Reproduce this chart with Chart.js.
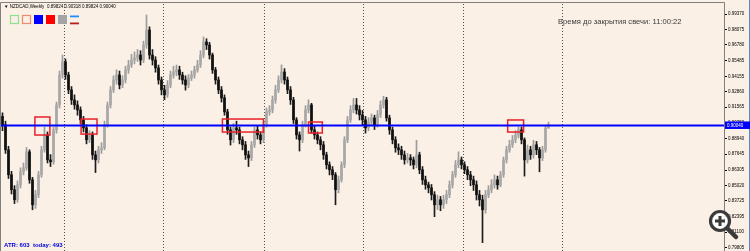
<!DOCTYPE html>
<html>
<head>
<meta charset="utf-8">
<script src="https://cdn.jsdelivr.net/npm/chart.js@4"></script>
<style>
  html, body { margin: 0; padding: 0; background: #FAF0E6; overflow: hidden; }
</style>
</head>
<body>
<canvas id="chart" width="750" height="251"></canvas>
<script>
// NZDCAD weekly candles
const opens = [
  0.9080, 0.9009, 0.8800, 0.8591, 0.8466, 0.8382, 0.8507, 0.8616, 0.8650, 0.8783,
  0.8549, 0.8340, 0.8424, 0.8591, 0.8800, 0.8925, 0.8716, 0.8700, 0.8967, 0.9176,
  0.9427, 0.9536, 0.9427, 0.9302, 0.9218, 0.9176, 0.9134, 0.9051, 0.8984, 0.8884,
  0.8925, 0.8758, 0.8716, 0.8800, 0.8817, 0.9009, 0.9176, 0.9302, 0.9385, 0.9427,
  0.9343, 0.9385, 0.9469, 0.9511, 0.9552, 0.9569, 0.9594, 0.9552, 0.9678, 0.9803,
  0.9594, 0.9552, 0.9486, 0.9385, 0.9302, 0.9260, 0.9343, 0.9427, 0.9452, 0.9469,
  0.9427, 0.9385, 0.9343, 0.9402, 0.9427, 0.9469, 0.9511, 0.9594, 0.9703, 0.9678,
  0.9594, 0.9469, 0.9385, 0.9302, 0.9235, 0.9118, 0.8967, 0.8884, 0.8984, 0.8967,
  0.8884, 0.8842, 0.8758, 0.8733, 0.8842, 0.8967, 0.8925, 0.8884, 0.9009, 0.9118,
  0.9134, 0.9218, 0.9302, 0.9385, 0.9452, 0.9385, 0.9302, 0.9218, 0.9051, 0.8925,
  0.8884, 0.9009, 0.9134, 0.9176, 0.8967, 0.8925, 0.8884, 0.8842, 0.8758, 0.8675,
  0.8633, 0.8591, 0.8466, 0.8549, 0.8675, 0.8884, 0.9051, 0.9134, 0.9176, 0.9134,
  0.9093, 0.9051, 0.8984, 0.9034, 0.9067, 0.9009, 0.9093, 0.9176, 0.9218, 0.9067,
  0.8967, 0.8884, 0.8817, 0.8800, 0.8758, 0.8716, 0.8733, 0.8716, 0.8675, 0.8758,
  0.8633, 0.8549, 0.8507, 0.8482, 0.8424, 0.8340, 0.8382, 0.8340, 0.8382, 0.8424,
  0.8507, 0.8591, 0.8675, 0.8716, 0.8675, 0.8633, 0.8591, 0.8549, 0.8507, 0.8424,
  0.8382, 0.8298, 0.8424, 0.8466, 0.8507, 0.8549, 0.8507, 0.8591, 0.8716, 0.8800,
  0.8842, 0.8884, 0.8925, 0.8967, 0.8884, 0.8716, 0.8800, 0.8758, 0.8842, 0.8800,
  0.8733, 0.8800, 0.8982
];
const highs = [
  0.9110, 0.9040, 0.8830, 0.8620, 0.8500, 0.8540, 0.8650, 0.8690, 0.8820, 0.8800,
  0.8570, 0.8460, 0.8620, 0.8830, 0.8990, 0.8950, 0.8760, 0.8990, 0.9200, 0.9460,
  0.9594, 0.9560, 0.9450, 0.9330, 0.9260, 0.9210, 0.9160, 0.9080, 0.9010, 0.8960,
  0.8950, 0.8790, 0.8830, 0.8860, 0.9040, 0.9200, 0.9330, 0.9420, 0.9470, 0.9460,
  0.9420, 0.9500, 0.9550, 0.9600, 0.9620, 0.9640, 0.9630, 0.9710, 0.9929, 0.9830,
  0.9640, 0.9580, 0.9510, 0.9410, 0.9340, 0.9380, 0.9460, 0.9500, 0.9510, 0.9500,
  0.9450, 0.9420, 0.9430, 0.9460, 0.9500, 0.9550, 0.9630, 0.9745, 0.9730, 0.9700,
  0.9610, 0.9490, 0.9410, 0.9330, 0.9260, 0.9140, 0.8990, 0.9020, 0.9040, 0.8990,
  0.8910, 0.8870, 0.8790, 0.8870, 0.8990, 0.9000, 0.8950, 0.9040, 0.9150, 0.9170,
  0.9250, 0.9340, 0.9420, 0.9511, 0.9480, 0.9410, 0.9330, 0.9240, 0.9070, 0.8950,
  0.9040, 0.9170, 0.9218, 0.9190, 0.9000, 0.8950, 0.8910, 0.8870, 0.8780, 0.8700,
  0.8660, 0.8610, 0.8580, 0.8700, 0.8910, 0.9080, 0.9170, 0.9230, 0.9230, 0.9170,
  0.9130, 0.9080, 0.9070, 0.9100, 0.9090, 0.9130, 0.9210, 0.9248, 0.9240, 0.9090,
  0.8990, 0.8910, 0.8850, 0.8830, 0.8790, 0.8770, 0.8760, 0.8740, 0.8880, 0.8780,
  0.8660, 0.8580, 0.8530, 0.8510, 0.8450, 0.8420, 0.8410, 0.8420, 0.8460, 0.8540,
  0.8620, 0.8710, 0.8783, 0.8740, 0.8700, 0.8660, 0.8620, 0.8580, 0.8540, 0.8460,
  0.8420, 0.8460, 0.8500, 0.8550, 0.8590, 0.8580, 0.8620, 0.8740, 0.8830, 0.8880,
  0.8920, 0.8960, 0.8992, 0.8990, 0.8900, 0.8840, 0.8830, 0.8880, 0.8870, 0.8820,
  0.8830, 0.9000, 0.9032
];
const lows = [
  0.8960, 0.8770, 0.8560, 0.8430, 0.8350, 0.8360, 0.8480, 0.8590, 0.8630, 0.8520,
  0.8298, 0.8310, 0.8400, 0.8570, 0.8780, 0.8690, 0.8660, 0.8680, 0.8940, 0.9150,
  0.9400, 0.9390, 0.9270, 0.9180, 0.9140, 0.9090, 0.9020, 0.8950, 0.8850, 0.8860,
  0.8720, 0.8610, 0.8690, 0.8770, 0.8800, 0.8990, 0.9150, 0.9280, 0.9350, 0.9310,
  0.9320, 0.9360, 0.9440, 0.9490, 0.9520, 0.9540, 0.9510, 0.9530, 0.9650, 0.9560,
  0.9510, 0.9450, 0.9350, 0.9260, 0.9220, 0.9240, 0.9320, 0.9400, 0.9420, 0.9390,
  0.9350, 0.9300, 0.9320, 0.9380, 0.9400, 0.9450, 0.9490, 0.9570, 0.9640, 0.9560,
  0.9440, 0.9350, 0.9270, 0.9200, 0.9090, 0.8930, 0.8840, 0.8860, 0.8930, 0.8850,
  0.8800, 0.8720, 0.8660, 0.8710, 0.8820, 0.8890, 0.8850, 0.8860, 0.8990, 0.9090,
  0.9110, 0.9190, 0.9280, 0.9360, 0.9350, 0.9270, 0.9180, 0.9020, 0.8890, 0.8790,
  0.8860, 0.8990, 0.9110, 0.8940, 0.8890, 0.8850, 0.8800, 0.8720, 0.8640, 0.8590,
  0.8550, 0.8340, 0.8440, 0.8530, 0.8650, 0.8860, 0.9030, 0.9110, 0.9100, 0.9050,
  0.9010, 0.8940, 0.8960, 0.9010, 0.8970, 0.8990, 0.9070, 0.9150, 0.9040, 0.8930,
  0.8850, 0.8780, 0.8760, 0.8720, 0.8680, 0.8690, 0.8670, 0.8640, 0.8650, 0.8600,
  0.8510, 0.8470, 0.8440, 0.8380, 0.8240, 0.8300, 0.8290, 0.8310, 0.8350, 0.8400,
  0.8480, 0.8570, 0.8650, 0.8640, 0.8600, 0.8550, 0.8500, 0.8460, 0.8380, 0.8330,
  0.8023, 0.8270, 0.8400, 0.8440, 0.8480, 0.8470, 0.8490, 0.8570, 0.8690, 0.8780,
  0.8820, 0.8860, 0.8900, 0.8850, 0.8580, 0.8690, 0.8720, 0.8730, 0.8760, 0.8616,
  0.8710, 0.8780, 0.8982
];
const closes = [
  0.9009, 0.8800, 0.8591, 0.8466, 0.8382, 0.8507, 0.8616, 0.8650, 0.8783, 0.8549,
  0.8340, 0.8424, 0.8591, 0.8800, 0.8925, 0.8716, 0.8700, 0.8967, 0.9176, 0.9427,
  0.9536, 0.9427, 0.9302, 0.9218, 0.9176, 0.9134, 0.9051, 0.8984, 0.8884, 0.8925,
  0.8758, 0.8716, 0.8800, 0.8817, 0.9009, 0.9176, 0.9302, 0.9385, 0.9427, 0.9343,
  0.9385, 0.9469, 0.9511, 0.9552, 0.9569, 0.9594, 0.9552, 0.9678, 0.9803, 0.9594,
  0.9552, 0.9486, 0.9385, 0.9302, 0.9260, 0.9343, 0.9427, 0.9452, 0.9469, 0.9427,
  0.9385, 0.9343, 0.9402, 0.9427, 0.9469, 0.9511, 0.9594, 0.9703, 0.9678, 0.9594,
  0.9469, 0.9385, 0.9302, 0.9235, 0.9118, 0.8967, 0.8884, 0.8984, 0.8967, 0.8884,
  0.8842, 0.8758, 0.8733, 0.8842, 0.8967, 0.8925, 0.8884, 0.9009, 0.9118, 0.9134,
  0.9218, 0.9302, 0.9385, 0.9452, 0.9385, 0.9302, 0.9218, 0.9051, 0.8925, 0.8884,
  0.9009, 0.9134, 0.9176, 0.8967, 0.8925, 0.8884, 0.8842, 0.8758, 0.8675, 0.8633,
  0.8591, 0.8466, 0.8549, 0.8675, 0.8884, 0.9051, 0.9134, 0.9176, 0.9134, 0.9093,
  0.9051, 0.8984, 0.9034, 0.9067, 0.9009, 0.9093, 0.9176, 0.9218, 0.9067, 0.8967,
  0.8884, 0.8817, 0.8800, 0.8758, 0.8716, 0.8733, 0.8716, 0.8675, 0.8758, 0.8633,
  0.8549, 0.8507, 0.8482, 0.8424, 0.8340, 0.8382, 0.8340, 0.8382, 0.8424, 0.8507,
  0.8591, 0.8675, 0.8716, 0.8675, 0.8633, 0.8591, 0.8549, 0.8507, 0.8424, 0.8382,
  0.8298, 0.8424, 0.8466, 0.8507, 0.8549, 0.8507, 0.8591, 0.8716, 0.8800, 0.8842,
  0.8884, 0.8925, 0.8967, 0.8884, 0.8716, 0.8800, 0.8758, 0.8842, 0.8800, 0.8733,
  0.8800, 0.8982, 0.9004
];

// price scale labels on the right
const tickLabels = ['0.99370', '0.98075', '0.96780', '0.95485', '0.94155', '0.92860', '0.91565', '0.90250',
  '0.88940', '0.87645', '0.86305', '0.85020', '0.83725', '0.82395', '0.81100', '0.79805'];

// horizontal line and red rectangles (bar index from/to, price top/bottom)
const hLinePrice = 0.90040;
const boxFrom = [10.8, 26.2, 73.3, 102.0, 168.4];
const boxTo = [15.8, 31.5, 87.0, 106.6, 173.7];
const boxTop = [0.9075, 0.9058, 0.9058, 0.9033, 0.9050];
const boxBottom = [0.8924, 0.8932, 0.8949, 0.8941, 0.8949];

// period separators (bar index)
const separators = [20.5, 53.5, 87, 120, 153.5, 186.5];

const totalSlots = 241;
const labels = Array.from({ length: totalSlots }, (_, i) => i);
const isBull = closes.map((c, i) => c >= opens[i]);

const BG = '#FAF0E6';

const mt4Plugin = {
  id: 'mt4',
  beforeDraw(chart) {
    const c = chart.ctx;
    c.save();
    c.fillStyle = BG;
    c.fillRect(0, 0, chart.width, chart.height);
    c.restore();
  },
  beforeDatasetsDraw(chart) {
    const c = chart.ctx, x = chart.scales.x, a = chart.chartArea;
    c.save();
    c.strokeStyle = '#505050';
    c.lineWidth = 1;
    c.setLineDash([1, 2]);
    separators.forEach(s => {
      const px = Math.round(x.getPixelForValue(s)) + 0.5;
      c.beginPath();
      c.moveTo(px, a.top);
      c.lineTo(px, a.bottom);
      c.stroke();
    });
    c.restore();
  },
  afterDatasetsDraw(chart) {
    const c = chart.ctx, x = chart.scales.x, y = chart.scales.y, a = chart.chartArea;
    c.save();
    // red rectangles
    c.strokeStyle = '#E8222A';
    c.lineWidth = 1.5;
    boxFrom.forEach((f, i) => {
      const x0 = x.getPixelForValue(f), x1 = x.getPixelForValue(boxTo[i]);
      const y0 = y.getPixelForValue(boxTop[i]), y1 = y.getPixelForValue(boxBottom[i]);
      c.strokeRect(x0, y0, x1 - x0, y1 - y0);
    });
    // blue horizontal line
    const ly = y.getPixelForValue(hLinePrice);
    c.strokeStyle = '#0000FF';
    c.lineWidth = 2;
    c.beginPath();
    c.moveTo(0, ly);
    c.lineTo(a.right, ly);
    c.stroke();
    c.restore();
  },
  afterDraw(chart) {
    const c = chart.ctx, y = chart.scales.y, a = chart.chartArea;
    c.save();
    // frame
    c.strokeStyle = '#808080';
    c.lineWidth = 1;
    c.beginPath();
    c.moveTo(0.5, chart.height);
    c.lineTo(0.5, 2.5);
    c.lineTo(a.right + 0.5, 2.5);
    c.lineTo(a.right + 0.5, chart.height);
    c.stroke();
    c.strokeStyle = '#5A86C8';
    c.beginPath();
    c.moveTo(749.5, 0);
    c.lineTo(749.5, chart.height);
    c.stroke();

    // price tag of the horizontal line
    const ly = y.getPixelForValue(hLinePrice);
    c.fillStyle = '#0000FF';
    c.fillRect(a.right + 1, ly - 4, 25, 7.5);
    c.fillStyle = '#FFFFFF';
    c.font = '4.5px "Liberation Sans"';
    c.textBaseline = 'middle';
    c.fillText(hLinePrice.toFixed(5), a.right + 3, ly);

    // symbol header
    c.fillStyle = '#000000';
    c.font = '4.5px "Liberation Sans"';
    c.fillText('\u25BC NZDCAD,Weekly  0.89824 0.90318 0.89824 0.90040', 4, 6.5);

    // indicator buttons
    c.lineWidth = 1.2;
    c.strokeStyle = '#8FE08F';
    c.strokeRect(10.5, 15.5, 8, 8);
    c.strokeStyle = '#F08A6A';
    c.strokeRect(22.5, 15.5, 8, 8);
    c.fillStyle = '#0000FF';
    c.fillRect(34, 15, 9, 9);
    c.fillStyle = '#FF0000';
    c.fillRect(46, 15, 9, 9);
    c.fillStyle = '#A4A4A4';
    c.fillRect(58, 15, 9, 9);
    c.fillStyle = '#1E90FF';
    c.fillRect(70, 15.5, 9, 1.8);
    c.fillStyle = '#B22222';
    c.fillRect(70, 22.5, 9, 1.8);

    // candle timer
    c.fillStyle = '#3A3A3A';
    c.font = '7.6px "Liberation Sans"';
    c.fillText('\u0412\u0440\u0435\u043C\u044F \u0434\u043E \u0437\u0430\u043A\u0440\u044B\u0442\u0438\u044F \u0441\u0432\u0435\u0447\u0438: 11:00:22', 558, 22);

    // ATR
    c.fillStyle = '#0000DD';
    c.font = 'bold 6px "Liberation Sans"';
    c.fillText('ATR: 603  today: 493', 4, 245.5);

    // magnifier icon
    c.fillStyle = 'rgba(255,255,255,0.85)';
    c.beginPath();
    c.arc(720, 221, 10, 0, Math.PI * 2);
    c.fill();
    c.strokeStyle = '#3A3A3A';
    c.lineWidth = 3.2;
    c.beginPath();
    c.arc(720, 221, 9.5, 0, Math.PI * 2);
    c.stroke();
    c.lineWidth = 3;
    c.beginPath();
    c.moveTo(715, 221); c.lineTo(725, 221);
    c.moveTo(720, 216); c.lineTo(720, 226);
    c.stroke();
    c.lineWidth = 4.5;
    c.lineCap = 'round';
    c.beginPath();
    c.moveTo(727.5, 228.5);
    c.lineTo(736, 237);
    c.stroke();
    c.restore();
  }
};

const ctx = document.getElementById('chart').getContext('2d');

new Chart(ctx, {
  type: 'bar',
  data: {
    labels: labels,
    datasets: [
      {
        // high-low wicks
        data: highs.map((h, i) => [lows[i], h]),
        backgroundColor: isBull.map(b => (b ? '#9C9C9C' : '#1C1C1C')),
        barThickness: 1,
        grouped: false,
        order: 2,
      },
      {
        // open-close bodies
        data: opens.map((o, i) => [o, closes[i]]),
        backgroundColor: isBull.map(b => (b ? '#A8A8A8' : '#101010')),
        barThickness: 2,
        minBarLength: 1,
        grouped: false,
        order: 1,
      },
    ],
  },
  options: {
    responsive: false,
    devicePixelRatio: 1,
    animation: false,
    layout: { padding: { left: 1, top: 4, right: 0, bottom: 0 } },
    plugins: {
      legend: { display: false },
      tooltip: { enabled: false },
    },
    scales: {
      x: {
        display: false,
      },
      y: {
        position: 'right',
        min: 0.7953,
        max: 1.0021,
        grid: { drawOnChartArea: false, drawTicks: true, tickLength: 3, color: '#000000' },
        border: { display: false },
        ticks: {
          autoSkip: false,
          padding: 1,
          color: '#000000',
          font: { family: 'Liberation Sans', size: 4.5 },
          callback: (value, index) => tickLabels[index],
        },
        afterBuildTicks: (scale) => {
          scale.ticks = tickLabels.map(t => ({ value: parseFloat(t) }));
        },
        afterFit: (scale) => {
          scale.width = 26;
          scale.paddingTop = 0;
          scale.paddingBottom = 0;
        },
      },
    },
  },
  plugins: [mt4Plugin],
});
</script>
</body>
</html>
